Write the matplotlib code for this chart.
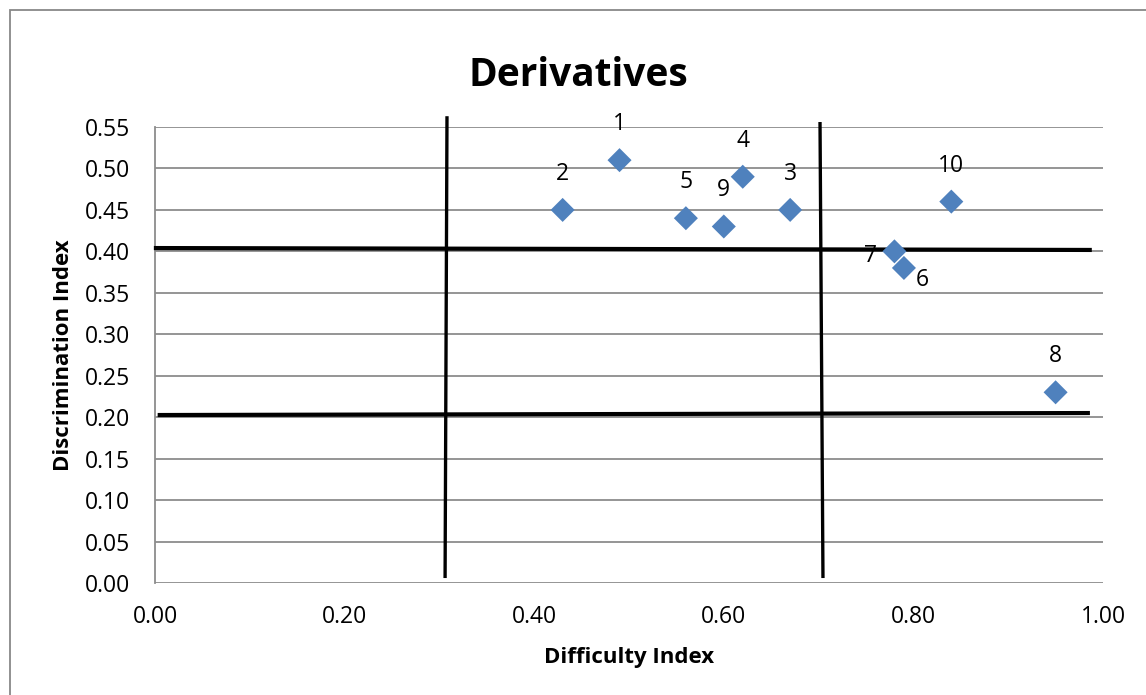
import matplotlib
matplotlib.use("Agg")
import matplotlib.pyplot as plt
import matplotlib.patches as mpatches

plt.rcParams["font.family"] = ["Open Sans", "DejaVu Sans"]

# ---------------------------------------------------------------------------
# Data: item difficulty vs discrimination
# ---------------------------------------------------------------------------
items = ["1", "2", "3", "4", "5", "6", "7", "8", "9", "10"]
difficulty = [0.49, 0.43, 0.67, 0.62, 0.56, 0.79, 0.78, 0.95, 0.60, 0.84]
discrimination = [0.51, 0.45, 0.45, 0.49, 0.44, 0.38, 0.40, 0.23, 0.43, 0.46]

x_ticks = [0.0, 0.2, 0.4, 0.6, 0.8, 1.0]
y_ticks = [0.0, 0.05, 0.10, 0.15, 0.20, 0.25, 0.30, 0.35, 0.40, 0.45, 0.50, 0.55]

# hand-drawn cut-off lines (x0, x1), (y0, y1)
cut_vertical = [((0.308, 0.306), (0.561, 0.008)),
                ((0.7015, 0.7046), (0.554, 0.008))]
cut_horizontal = [((0.001, 0.986), (0.404, 0.4017)),
                  ((0.005, 0.984), (0.2026, 0.205))]

# label offsets in points (dx, dy); default above the point
label_offset = {"6": (13, -9), "7": (-17, -3)}

C_MARK = "#4F81BD"
C_GRID = "#8C8C8C"

fig = plt.figure(figsize=(11.46, 6.95), dpi=100, facecolor="white")
ax = fig.add_axes([155 / 1146, 1 - 583 / 695, 948 / 1146, 456 / 695])

# outer chart border (only left/top visible)
fig.patches.append(mpatches.Rectangle(
    (10 / 1146, -0.2), 1.5, 1.2 - 10 / 695, transform=fig.transFigure,
    fill=False, edgecolor="#888888", linewidth=1.3))

ax.set_xlim(0, 1)
ax.set_ylim(0, 0.55)
ax.set_xticks(x_ticks)
ax.set_yticks(y_ticks)
ax.set_xticklabels([f"{v:.2f}" for v in x_ticks])
ax.set_yticklabels([f"{v:.2f}" for v in y_ticks])
ax.tick_params(length=0, labelsize=16.5)
ax.tick_params(axis="y", pad=18)
ax.tick_params(axis="x", pad=16)

ax.grid(axis="y", color=C_GRID, linewidth=1.3)
ax.set_axisbelow(True)
for s in ("top", "right", "bottom"):
    ax.spines[s].set_visible(False)
ax.spines["left"].set_color(C_GRID)
ax.spines["left"].set_linewidth(1.3)

for (xs, ys) in cut_vertical:
    ax.plot(xs, ys, color="black", linewidth=2.4, clip_on=False, zorder=3)
for (xs, ys) in cut_horizontal:
    ax.plot(xs, ys, color="black", linewidth=3.0, clip_on=False, zorder=3)

ax.scatter(difficulty, discrimination, marker="D", s=150, color=C_MARK,
           edgecolors="none", zorder=4, clip_on=False)

for name, x, y in zip(items, difficulty, discrimination):
    dx, dy = label_offset.get(name, (0, 26))
    ax.annotate(name, (x, y), xytext=(dx, dy), textcoords="offset points",
                ha="center", va="center", fontsize=16.5, color="black", zorder=5)

fig.text(578 / 1146, 1 - 75 / 695, "Derivatives", ha="center", va="center",
         fontsize=28, fontweight="bold")
ax.set_xlabel("Difficulty Index", fontsize=16, fontweight="bold", labelpad=13)
ax.set_ylabel("Discrimination Index", fontsize=16, fontweight="bold", labelpad=8)

fig.savefig("out.png", dpi=100, facecolor="white")
